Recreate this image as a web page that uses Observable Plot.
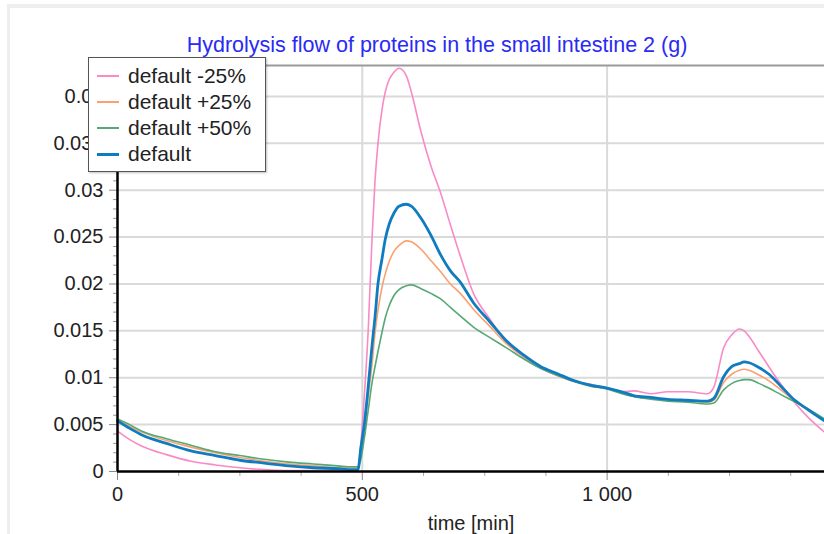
<!DOCTYPE html>
<html>
<head>
<meta charset="utf-8">
<script src="https://cdn.jsdelivr.net/npm/d3@7"></script>
<script src="https://cdn.jsdelivr.net/npm/@observablehq/plot@0.6"></script>
<style>
  html, body { margin: 0; padding: 0; background: #fff; }
  #wrap { position: relative; width: 824px; height: 534px; overflow: hidden; font-family: Arial, "Liberation Sans", sans-serif; }
  #panel { position: absolute; left: 7px; top: 4px; right: -10px; bottom: -10px; border-left: 3px solid #eeeeee; border-top: 4px solid #eeeeee; pointer-events: none; }
  #title { position: absolute; left: 0; width: 874px; top: 32px; text-align: center; color: #2a2af5; font-size: 21.5px; line-height: 26px; }
  #legend { position: absolute; left: 88px; top: 57px; width: 176px; height: 113px; background: #fff; border: 1.5px solid #555; box-shadow: 1px 1px 2px rgba(0,0,0,0.25); }
  .row { position: absolute; left: 0; height: 26px; display: flex; align-items: center; font-size: 21px; color: #222; white-space: nowrap; }
  .sw { display: inline-block; width: 22px; margin-left: 8px; margin-right: 9px; }
</style>
</head>
<body>
<div id="wrap">
  <div id="panel"></div>
  <div id="chart"></div>
  <div id="title"></div>
  <div id="legend"></div>
</div>
<script>
// ---- data ----
const titleText = "Hydrolysis flow of proteins in the small intestine 2 (g)";
const xLabel = "time [min]";
const seriesNames = ["default -25%", "default +25%", "default +50%", "default"];
const seriesColors = ["#f98ac6", "#fca06f", "#56a874", "#0f7cc0"];
const seriesWidths = [1.6, 1.6, 1.6, 2.8];

const times = [0, 25, 50, 100, 150, 200, 250, 300, 350, 400, 450, 480, 491, 497, 504, 512, 520, 526, 532, 540, 547, 555, 565, 575, 590, 600, 620, 640, 660, 680, 700, 727, 760, 797, 830, 864, 900, 932, 966, 1000, 1030, 1054, 1089, 1124, 1164, 1205, 1218, 1238, 1255, 1270, 1280, 1290, 1310, 1330, 1355, 1381, 1410, 1444];

const vMinus25 = [0.0043, 0.0034, 0.0027, 0.0018, 0.0011, 0.0007, 0.0004, 0.0002, 0.0001, 0.0001, 0.0001, 0.0001, 0.0001, 0.0030, 0.0080, 0.0150, 0.0250, 0.0310, 0.0350, 0.0385, 0.0405, 0.0418, 0.0426, 0.0430, 0.0422, 0.0405, 0.0362, 0.0326, 0.0297, 0.0263, 0.0230, 0.0190, 0.0163, 0.0136, 0.0122, 0.0110, 0.0102, 0.0096, 0.0093, 0.0089, 0.0085, 0.0086, 0.0083, 0.0085, 0.0085, 0.0083, 0.0090, 0.0132, 0.0146, 0.0152, 0.0150, 0.0144, 0.0128, 0.0112, 0.0093, 0.0075, 0.0058, 0.0042];

const vPlus25 = [0.0055, 0.0048, 0.0042, 0.0033, 0.0026, 0.0020, 0.0015, 0.0011, 0.0008, 0.0006, 0.0004, 0.0004, 0.0004, 0.0020, 0.0045, 0.0080, 0.0115, 0.0148, 0.0172, 0.0196, 0.0211, 0.0224, 0.0235, 0.0241, 0.0246, 0.0245, 0.0237, 0.0225, 0.0213, 0.0200, 0.0190, 0.0173, 0.0155, 0.0135, 0.0123, 0.0111, 0.0103, 0.0097, 0.0092, 0.0089, 0.0084, 0.0080, 0.0078, 0.0076, 0.0075, 0.0074, 0.0076, 0.0095, 0.0104, 0.0108, 0.0109, 0.0108, 0.0103, 0.0097, 0.0087, 0.0076, 0.0066, 0.0054];

const vPlus50 = [0.0056, 0.0050, 0.0043, 0.0035, 0.0028, 0.0021, 0.0017, 0.0013, 0.0010, 0.0008, 0.0006, 0.0005, 0.0005, 0.0013, 0.0035, 0.0065, 0.0095, 0.0112, 0.0128, 0.0148, 0.0164, 0.0177, 0.0188, 0.0194, 0.0198, 0.0199, 0.0195, 0.0190, 0.0184, 0.0175, 0.0166, 0.0154, 0.0143, 0.0131, 0.0120, 0.0110, 0.0102, 0.0096, 0.0091, 0.0088, 0.0083, 0.0080, 0.0077, 0.0075, 0.0074, 0.0072, 0.0073, 0.0087, 0.0094, 0.0097, 0.0098, 0.0098, 0.0094, 0.0089, 0.0082, 0.0075, 0.0067, 0.0056];

const vDefault = [0.0054, 0.0046, 0.0039, 0.0030, 0.0022, 0.0017, 0.0012, 0.0009, 0.0006, 0.0004, 0.0003, 0.0002, 0.0002, 0.0025, 0.0050, 0.0090, 0.0135, 0.0165, 0.0200, 0.0226, 0.0248, 0.0264, 0.0276, 0.0283, 0.0285, 0.0283, 0.0270, 0.0252, 0.0231, 0.0214, 0.0202, 0.0180, 0.0160, 0.0138, 0.0124, 0.0112, 0.0104, 0.0097, 0.0092, 0.0089, 0.0085, 0.0081, 0.0079, 0.0077, 0.0076, 0.0075, 0.0078, 0.0101, 0.0112, 0.0115, 0.0117, 0.0116, 0.0111, 0.0104, 0.0091, 0.0077, 0.0066, 0.0054];

const xTicks = [0, 500, 1000];
const xMinorTicks = [125, 250, 375, 625, 750, 875, 1125, 1250, 1375];
const yTicks = [0, 0.005, 0.01, 0.015, 0.02, 0.025, 0.03, 0.035, 0.04];
const yMinorTicks = [0.001,0.002,0.003,0.004,0.006,0.007,0.008,0.009,0.011,0.012,0.013,0.014,0.016,0.017,0.018,0.019,0.021,0.022,0.023,0.024,0.026,0.027,0.028,0.029,0.031,0.032,0.033,0.034,0.036,0.037,0.038,0.039,0.041,0.042,0.043];
const xDomain = [0, 1444];
const yDomain = [0, 0.0433];

// ---- build ----
const allValues = [vMinus25, vPlus25, vPlus50, vDefault];
const seriesRows = allValues.map((arr, k) => times.map((t, i) => ({t, v: arr[i], s: seriesNames[k]})));

const locale = d3.formatLocale({decimal: ".", thousands: " ", grouping: [3], currency: ["", ""]});
const xFmt = locale.format(",");
const yFmt = d => String(+d.toFixed(4));

const chart = Plot.plot({
  width: 824,
  height: 534,
  marginLeft: 117,
  marginRight: 0,
  marginTop: 65,
  marginBottom: 63,
  style: {fontFamily: 'Arial, "Liberation Sans", sans-serif', fontSize: "20px", color: "#222", background: "transparent"},
  x: {domain: xDomain},
  y: {domain: yDomain},
  marks: [
    Plot.gridY(yTicks.slice(1), {stroke: "#dadada", strokeWidth: 2, strokeOpacity: 1}),
    Plot.gridX(xTicks.slice(1), {stroke: "#dadada", strokeWidth: 2, strokeOpacity: 1}),
    Plot.ruleY([yDomain[1]], {stroke: "#9a9a9a", strokeWidth: 2}),
    ...seriesRows.map((rows, k) => Plot.line(rows, {x: "t", y: "v", stroke: seriesColors[k], strokeWidth: seriesWidths[k], curve: "monotone-x"})),
    Plot.axisY(yMinorTicks, {tickSize: 4, tickFormat: () => "", stroke: "#999", label: null}),
    Plot.axisY(yTicks, {tickSize: 8, tickPadding: 6, tickFormat: yFmt, stroke: "#888", fill: "#222", label: null}),
    Plot.axisX(xMinorTicks, {tickSize: 5, tickFormat: () => "", stroke: "#aaa", label: null}),
    Plot.axisX(xTicks, {tickSize: 9, tickPadding: 6, tickFormat: xFmt, stroke: "#888", fill: "#222", label: xLabel, labelAnchor: "center", labelArrow: "none", labelOffset: 58}),
    Plot.ruleX([0], {stroke: "#000", strokeWidth: 2.5}),
    Plot.ruleY([0], {stroke: "#000", strokeWidth: 2.5})
  ]
});
document.getElementById("chart").appendChild(chart);

document.getElementById("title").textContent = titleText;
const legend = document.getElementById("legend");
seriesNames.forEach((name, k) => {
  const row = document.createElement("div");
  row.className = "row";
  row.style.top = (5 + k * 26) + "px";
  const sw = document.createElement("span");
  sw.className = "sw";
  sw.style.borderTop = seriesWidths[k] + 0.4 + "px solid " + seriesColors[k];
  const tx = document.createElement("span");
  tx.textContent = name;
  row.appendChild(sw);
  row.appendChild(tx);
  legend.appendChild(row);
});
</script>
</body>
</html>
